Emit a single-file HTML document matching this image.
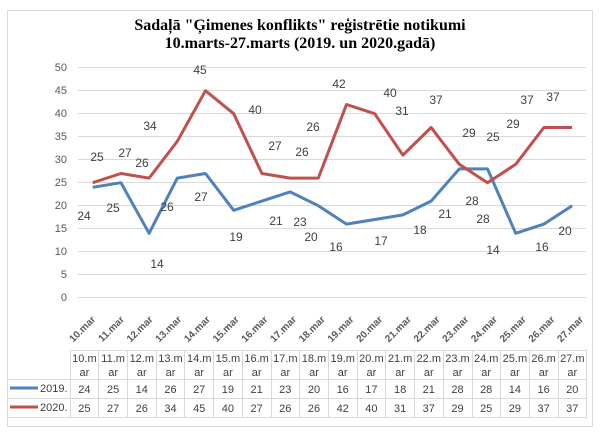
<!DOCTYPE html>
<html><head><meta charset="utf-8"><style>
html,body{margin:0;padding:0;background:#fff;}
svg text{font-family:"Liberation Sans",sans-serif;}
</style></head><body>
<svg width="602" height="438" viewBox="0 0 602 438" xmlns="http://www.w3.org/2000/svg">
<rect x="7.5" y="10.5" width="585" height="416" fill="#fff" stroke="#d9d9d9"/>
<text x="300" y="30" text-anchor="middle" style="font-family:'Liberation Serif',serif;font-weight:bold;font-size:16px" fill="#000">Sadaļā "Ģimenes konflikts" reģistrētie notikumi</text>
<text x="300" y="48" text-anchor="middle" style="font-family:'Liberation Serif',serif;font-weight:bold;font-size:16px" fill="#000">10.marts-27.marts  (2019. un 2020.gadā)</text>
<g stroke="#d9d9d9" stroke-width="1">
<line x1="78" x2="586" y1="67.5" y2="67.5"/><line x1="78" x2="586" y1="90.5" y2="90.5"/>
<line x1="78" x2="586" y1="113.5" y2="113.5"/><line x1="78" x2="586" y1="136.5" y2="136.5"/>
<line x1="78" x2="586" y1="159.5" y2="159.5"/><line x1="78" x2="586" y1="182.5" y2="182.5"/>
<line x1="78" x2="586" y1="205.5" y2="205.5"/><line x1="78" x2="586" y1="228.5" y2="228.5"/>
<line x1="78" x2="586" y1="251.5" y2="251.5"/><line x1="78" x2="586" y1="274.5" y2="274.5"/>
<line x1="78" x2="586" y1="297.5" y2="297.5"/>
</g>
<g font-size="11" fill="#595959" text-anchor="end">
<text x="67" y="71">50</text><text x="67" y="94">45</text><text x="67" y="117">40</text><text x="67" y="140">35</text><text x="67" y="163">30</text><text x="67" y="186">25</text><text x="67" y="209">20</text><text x="67" y="232">15</text><text x="67" y="255">10</text><text x="67" y="278">5</text><text x="67" y="301">0</text>
</g>
<polyline fill="none" stroke="#4f81bd" stroke-width="3" stroke-linejoin="round" points="92.7,187.3 120.9,182.7 149.1,233.3 177.3,178.1 205.5,173.5 233.7,210.3 261.9,201.1 290.1,191.9 318.3,205.7 346.5,224.1 374.7,219.5 402.9,214.9 431.1,201.1 459.3,168.9 487.5,168.9 515.7,233.3 543.9,224.1 572.1,205.7"/>
<polyline fill="none" stroke="#c0504d" stroke-width="3" stroke-linejoin="round" points="92.7,182.7 120.9,173.5 149.1,178.1 177.3,141.3 205.5,90.7 233.7,113.7 261.9,173.5 290.1,178.1 318.3,178.1 346.5,104.5 374.7,113.7 402.9,155.1 431.1,127.5 459.3,164.3 487.5,182.7 515.7,164.3 543.9,127.5 572.1,127.5"/>
<g font-size="12" fill="#404040" text-anchor="middle">
<text x="97" y="161">25</text><text x="125" y="157">27</text><text x="142" y="167">26</text><text x="150" y="130">34</text><text x="200" y="74">45</text><text x="255" y="114">40</text><text x="275" y="150">27</text><text x="302" y="156">26</text><text x="313" y="131">26</text><text x="339" y="88">42</text><text x="390" y="97">40</text><text x="402" y="115">31</text><text x="436" y="104">37</text><text x="469" y="137">29</text><text x="493" y="141">25</text><text x="513" y="128">29</text><text x="527" y="104">37</text><text x="553" y="101">37</text>
<text x="84" y="220">24</text><text x="113" y="212">25</text><text x="157" y="268">14</text><text x="167" y="211">26</text><text x="201" y="201">27</text><text x="236" y="241">19</text><text x="276" y="225">21</text><text x="300" y="226">23</text><text x="311" y="241">20</text><text x="336" y="251">16</text><text x="381" y="245">17</text><text x="420" y="234">18</text><text x="445" y="218">21</text><text x="472" y="205">28</text><text x="483" y="223">28</text><text x="493" y="254">14</text><text x="542" y="251">16</text><text x="565" y="235">20</text>
</g>
<g font-size="10" font-weight="bold" fill="#595959" text-anchor="end">
<text transform="translate(96,320) rotate(-45)">10.mar</text><text transform="translate(124.7,320) rotate(-45)">11.mar</text><text transform="translate(153.4,320) rotate(-45)">12.mar</text><text transform="translate(182.1,320) rotate(-45)">13.mar</text><text transform="translate(210.8,320) rotate(-45)">14.mar</text><text transform="translate(239.5,320) rotate(-45)">15.mar</text><text transform="translate(268.2,320) rotate(-45)">16.mar</text><text transform="translate(296.9,320) rotate(-45)">17.mar</text><text transform="translate(325.6,320) rotate(-45)">18.mar</text><text transform="translate(354.3,320) rotate(-45)">19.mar</text><text transform="translate(383,320) rotate(-45)">20.mar</text><text transform="translate(411.7,320) rotate(-45)">21.mar</text><text transform="translate(440.4,320) rotate(-45)">22.mar</text><text transform="translate(469.1,320) rotate(-45)">23.mar</text><text transform="translate(497.8,320) rotate(-45)">24.mar</text><text transform="translate(526.5,320) rotate(-45)">25.mar</text><text transform="translate(555.2,320) rotate(-45)">26.mar</text><text transform="translate(583.9,320) rotate(-45)">27.mar</text>
</g>
<g stroke="#d9d9d9" stroke-width="1">
<line x1="70" x2="587" y1="350.5" y2="350.5"/>
<line x1="8" x2="587" y1="379.5" y2="379.5"/>
<line x1="8" x2="587" y1="398.5" y2="398.5"/>
<line x1="8" x2="587" y1="417.5" y2="417.5"/>
<line x1="70.5" x2="70.5" y1="350" y2="418"/><line x1="98.5" x2="98.5" y1="350" y2="418"/><line x1="127.5" x2="127.5" y1="350" y2="418"/><line x1="156.5" x2="156.5" y1="350" y2="418"/><line x1="184.5" x2="184.5" y1="350" y2="418"/><line x1="213.5" x2="213.5" y1="350" y2="418"/><line x1="242.5" x2="242.5" y1="350" y2="418"/><line x1="271.5" x2="271.5" y1="350" y2="418"/><line x1="299.5" x2="299.5" y1="350" y2="418"/><line x1="328.5" x2="328.5" y1="350" y2="418"/><line x1="357.5" x2="357.5" y1="350" y2="418"/><line x1="385.5" x2="385.5" y1="350" y2="418"/><line x1="414.5" x2="414.5" y1="350" y2="418"/><line x1="443.5" x2="443.5" y1="350" y2="418"/><line x1="472.5" x2="472.5" y1="350" y2="418"/><line x1="500.5" x2="500.5" y1="350" y2="418"/><line x1="529.5" x2="529.5" y1="350" y2="418"/><line x1="558.5" x2="558.5" y1="350" y2="418"/><line x1="586.5" x2="586.5" y1="350" y2="418"/>
</g>
<line x1="10" x2="38" y1="388" y2="388" stroke="#4f81bd" stroke-width="3"/>
<line x1="10" x2="38" y1="407" y2="407" stroke="#c0504d" stroke-width="3"/>
<g font-size="11" fill="#404040">
<text x="40" y="392">2019.</text><text x="40" y="411">2020.</text>
</g>
<g font-size="11" fill="#404040" text-anchor="middle">
<text x="84.4" y="362">10.m</text><text x="113.1" y="362">11.m</text><text x="141.8" y="362">12.m</text><text x="170.5" y="362">13.m</text><text x="199.2" y="362">14.m</text><text x="227.9" y="362">15.m</text><text x="256.6" y="362">16.m</text><text x="285.3" y="362">17.m</text><text x="314" y="362">18.m</text><text x="342.7" y="362">19.m</text><text x="371.4" y="362">20.m</text><text x="400.1" y="362">21.m</text><text x="428.8" y="362">22.m</text><text x="457.5" y="362">23.m</text><text x="486.2" y="362">24.m</text><text x="514.9" y="362">25.m</text><text x="543.6" y="362">26.m</text><text x="572.3" y="362">27.m</text>
<text x="84.4" y="376">ar</text><text x="113.1" y="376">ar</text><text x="141.8" y="376">ar</text><text x="170.5" y="376">ar</text><text x="199.2" y="376">ar</text><text x="227.9" y="376">ar</text><text x="256.6" y="376">ar</text><text x="285.3" y="376">ar</text><text x="314" y="376">ar</text><text x="342.7" y="376">ar</text><text x="371.4" y="376">ar</text><text x="400.1" y="376">ar</text><text x="428.8" y="376">ar</text><text x="457.5" y="376">ar</text><text x="486.2" y="376">ar</text><text x="514.9" y="376">ar</text><text x="543.6" y="376">ar</text><text x="572.3" y="376">ar</text>
<text x="84.4" y="393">24</text><text x="113.1" y="393">25</text><text x="141.8" y="393">14</text><text x="170.5" y="393">26</text><text x="199.2" y="393">27</text><text x="227.9" y="393">19</text><text x="256.6" y="393">21</text><text x="285.3" y="393">23</text><text x="314" y="393">20</text><text x="342.7" y="393">16</text><text x="371.4" y="393">17</text><text x="400.1" y="393">18</text><text x="428.8" y="393">21</text><text x="457.5" y="393">28</text><text x="486.2" y="393">28</text><text x="514.9" y="393">14</text><text x="543.6" y="393">16</text><text x="572.3" y="393">20</text>
<text x="84.4" y="412">25</text><text x="113.1" y="412">27</text><text x="141.8" y="412">26</text><text x="170.5" y="412">34</text><text x="199.2" y="412">45</text><text x="227.9" y="412">40</text><text x="256.6" y="412">27</text><text x="285.3" y="412">26</text><text x="314" y="412">26</text><text x="342.7" y="412">42</text><text x="371.4" y="412">40</text><text x="400.1" y="412">31</text><text x="428.8" y="412">37</text><text x="457.5" y="412">29</text><text x="486.2" y="412">25</text><text x="514.9" y="412">29</text><text x="543.6" y="412">37</text><text x="572.3" y="412">37</text>
</g>
</svg>
</body></html>
